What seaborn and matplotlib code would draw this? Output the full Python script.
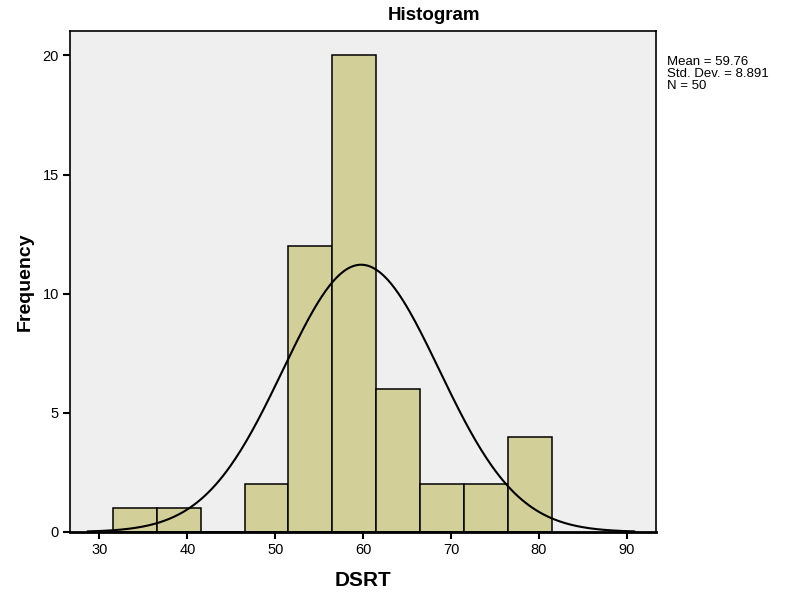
"""
SPSS-style histogram of DSRT scores with normal curve
"""

import numpy as np
import pandas as pd
import matplotlib
matplotlib.use('Agg')
import matplotlib.pyplot as plt
import seaborn as sns

# Data
bin_centers = [34, 39, 44, 49, 54, 59, 64, 69, 74, 79]
bin_counts = [1, 1, 0, 2, 12, 20, 6, 2, 2, 4]
bin_edges = [31.5, 36.5, 41.5, 46.5, 51.5, 56.5, 61.5, 66.5, 71.5, 76.5, 81.5]
x_ticks = [30, 40, 50, 60, 70, 80, 90]
y_ticks = [0, 5, 10, 15, 20]

mean_val = 59.76
std_val = 8.891
n_val = 50
bin_width = 5

sns.set_style('white')
plt.rcParams['font.family'] = ['Liberation Sans', 'DejaVu Sans']
plt.rcParams['text.color'] = 'black'
plt.rcParams['axes.labelcolor'] = 'black'

df = pd.DataFrame({'DSRT': bin_centers, 'count': bin_counts})

fig = plt.figure(figsize=(7.93, 5.93), dpi=100)
ax = fig.add_axes([0.0883, 0.1029, 0.7389, 0.8453])
ax.set_facecolor('#efefef')

sns.histplot(data=df, x='DSRT', weights='count', bins=bin_edges,
             color='#d3cf98', alpha=1.0, edgecolor='black', linewidth=1.1, ax=ax)

# fitted normal curve scaled to frequency
xs = np.linspace(mean_val - 3.5 * std_val, mean_val + 3.5 * std_val, 300)
ys = n_val * bin_width * np.exp(-0.5 * ((xs - mean_val) / std_val) ** 2) / (std_val * np.sqrt(2 * np.pi))
sns.lineplot(x=xs, y=ys, color='black', linewidth=1.5, ax=ax)

ax.set_xlim(26.65, 93.3)
ax.set_ylim(0, 21.04)
ax.set_xticks(x_ticks)
ax.set_yticks(y_ticks)
ax.tick_params(bottom=True, left=True, direction='out', length=5, width=1.5,
               colors='black', labelsize=10.5, pad=3)

for s in ax.spines.values():
    s.set_visible(True)
    s.set_color('black')
    s.set_linewidth(1.2)
ax.spines['bottom'].set_linewidth(2)

ax.set_xlabel('DSRT', fontsize=15, fontweight='bold', labelpad=10)
ax.set_ylabel('Frequency', fontsize=14, fontweight='bold', labelpad=6)

fig.text(0.547, 0.974, 'Histogram', ha='center', va='center', fontsize=13.5, fontweight='bold')
fig.text(0.841, 0.906, f'Mean = {mean_val}\nStd. Dev. = {std_val}\nN = {n_val}',
         ha='left', va='top', fontsize=9.5, linespacing=1.0)

plt.savefig('out.png', dpi=100)
plt.close()
